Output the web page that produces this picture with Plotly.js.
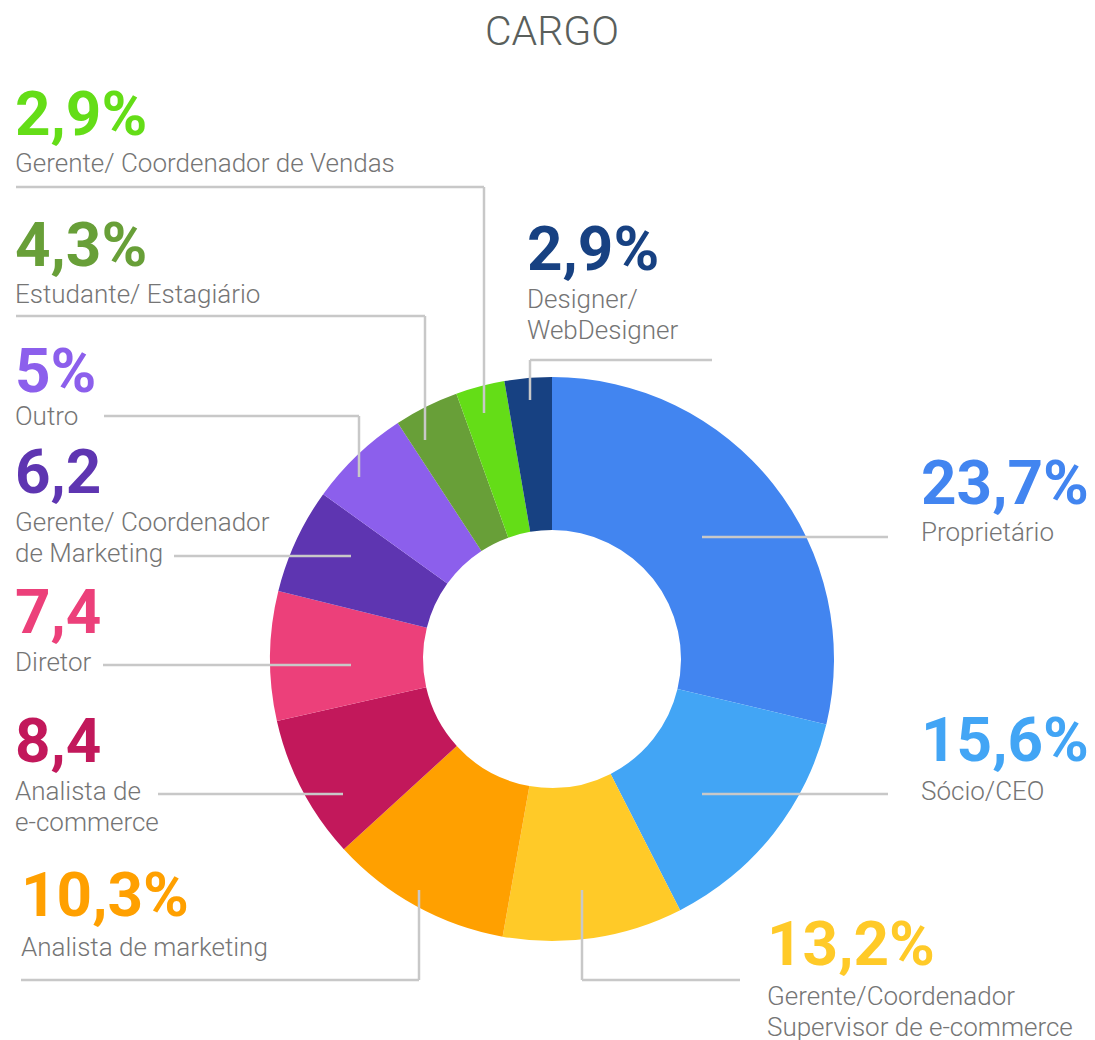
<!DOCTYPE html>
<html>
<head>
<meta charset="utf-8">
<script src="https://cdn.plot.ly/plotly-3.0.1.min.js"></script>
<style>html,body{margin:0;padding:0;background:#fff;}#chart{width:1095px;height:1040px;}</style>
</head>
<body>
<div id="chart"></div>
<script>
// ---- data ----
const categories = ['Proprietário', 'Sócio/CEO', 'Gerente/Coordenador Supervisor de e-commerce',
  'Analista de marketing', 'Analista de e-commerce', 'Diretor', 'Gerente/ Coordenador de Marketing',
  'Outro', 'Estudante/ Estagiário', 'Gerente/ Coordenador de Vendas', 'Designer/ WebDesigner'];
// percentages printed next to each slice
const printedPct = [23.7, 15.6, 13.2, 10.3, 8.4, 7.4, 6.2, 5, 4.3, 2.9, 2.9];
const printedWithSign = [true, true, true, true, false, false, false, true, true, true, true];
// share of the ring each slice actually occupies in the drawing (measured from arc angles)
const arcShares = [28.7, 13.75, 10.3, 10.4, 8.25, 7.4, 6.05, 5.85, 3.7, 2.8, 2.7];
// description text as printed (line breaks as in the picture)
const descLines = [['Proprietário'], ['Sócio/CEO'], ['Gerente/Coordenador', 'Supervisor de e-commerce'],
  ['Analista de marketing'], ['Analista de', 'e-commerce'], ['Diretor'], ['Gerente/ Coordenador', 'de Marketing'],
  ['Outro'], ['Estudante/ Estagiário'], ['Gerente/ Coordenador de Vendas'], ['Designer/', 'WebDesigner']];
const chartTitle = 'CARGO';

// ---- styles / layout ----
const colors = ['#4285F0', '#42A5F5', '#FFCA28', '#FFA000', '#C2185B', '#EC407A', '#5E35B1',
  '#8C5FEC', '#689F38', '#64DD17', '#174182'];
const W = 1095, H = 1040;
const cx = 552, cy = 659, R = 282, holeR = 129;
const pctSize = 62, descSize = 26, lineGap = 31, padX = 3;
const labelPos = [
  {x: 922, pct: 504, desc: 541},
  {x: 922, pct: 761, desc: 800},
  {x: 768, pct: 965, desc: 1005},
  {x: 22, pct: 916, desc: 956},
  {x: 16, pct: 762, desc: 800},
  {x: 16, pct: 633, desc: 671},
  {x: 16, pct: 493, desc: 531},
  {x: 16, pct: 392, desc: 425},
  {x: 16, pct: 266, desc: 303},
  {x: 16, pct: 135, desc: 172},
  {x: 528, pct: 270, desc: 308}
];
const leaders = [
  [[702, 537], [888, 537]],
  [[702, 794], [888, 794]],
  [[582, 890], [582, 980], [740, 980]],
  [[419, 890], [419, 980], [21, 980]],
  [[158, 794], [343, 794]],
  [[103, 665], [351, 665]],
  [[174, 556], [351, 556]],
  [[104, 416], [359, 416], [359, 477]],
  [[16, 316], [425, 316], [425, 440]],
  [[16, 187], [484, 187], [484, 413]],
  [[712, 360], [530, 360], [530, 400]]
];

const px = x => x / W;
const py = y => 1 - y / H;
const mid = (baseline, size) => py(baseline - 0.342 * size);

const fmt = (v, sign) => String(v).replace('.', ',') + (sign ? '%' : '');

const annotations = [];
categories.forEach((c, i) => {
  const p = labelPos[i];
  annotations.push({
    text: fmt(printedPct[i], printedWithSign[i]), xref: 'paper', yref: 'paper',
    x: px(p.x - padX), y: mid(p.pct, pctSize), xanchor: 'left', yanchor: 'middle', showarrow: false,
    font: {family: 'Roboto, sans-serif', size: pctSize, color: colors[i], weight: 700}
  });
  descLines[i].forEach((line, k) => {
    annotations.push({
      text: line, xref: 'paper', yref: 'paper',
      x: px(p.x - padX), y: mid(p.desc + k * lineGap, descSize), xanchor: 'left', yanchor: 'middle', showarrow: false,
      font: {family: 'Roboto, sans-serif', size: descSize, color: '#757575', weight: 300}
    });
  });
});

const shapes = [];
leaders.forEach(pts => {
  for (let k = 0; k < pts.length - 1; k++) {
    shapes.push({type: 'line', xref: 'paper', yref: 'paper',
      x0: px(pts[k][0]), y0: py(pts[k][1]), x1: px(pts[k + 1][0]), y1: py(pts[k + 1][1]),
      line: {color: '#c8c8c8', width: 2.5}});
  }
});

const trace = {
  type: 'pie',
  labels: categories,
  values: arcShares,
  sort: false,
  direction: 'clockwise',
  rotation: 0,
  hole: holeR / R,
  textinfo: 'none',
  hoverinfo: 'label',
  marker: {colors: colors, line: {width: 0}},
  domain: {x: [px(cx - R), px(cx + R)], y: [py(cy + R), py(cy - R)]}
};

const layout = {
  width: W, height: H,
  margin: {l: 0, r: 0, t: 0, b: 0},
  paper_bgcolor: '#ffffff',
  showlegend: false,
  title: {text: chartTitle, x: px(552), xanchor: 'center', y: 1 - 31 / H, yanchor: 'middle', yref: 'container',
    font: {family: 'Roboto, sans-serif', size: 41, color: '#5a5f5c', weight: 300}},
  annotations: annotations,
  shapes: shapes
};

Plotly.newPlot('chart', [trace], layout, {displayModeBar: false, staticPlot: true});
</script>
</body>
</html>
